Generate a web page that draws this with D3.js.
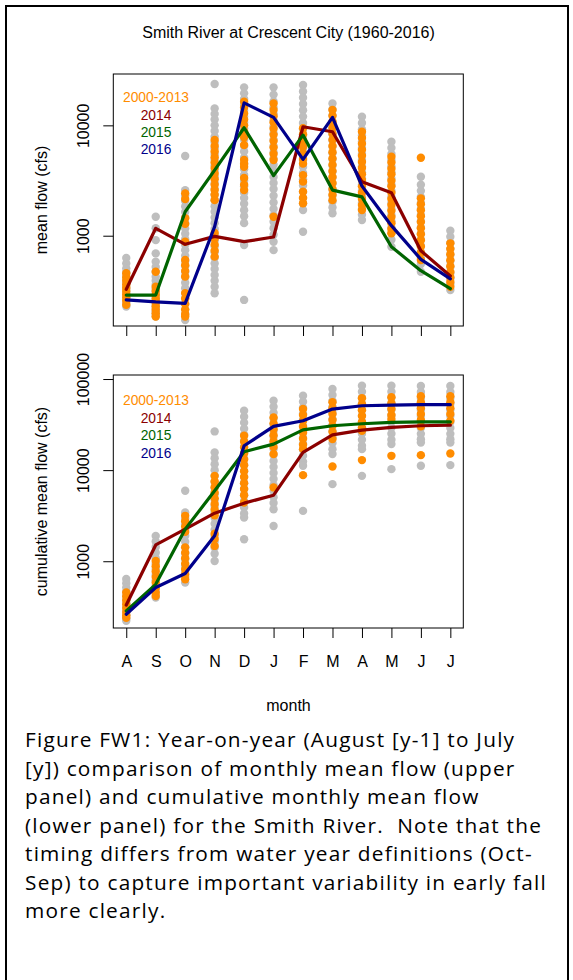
<!DOCTYPE html>
<html>
<head>
<meta charset="utf-8">
<script src="https://cdn.jsdelivr.net/npm/d3@7/dist/d3.min.js"></script>
<style>
body { margin: 0; background: #fff; }
svg text { font-family: "Liberation Sans", Arial, sans-serif; fill: #000; }
</style>
</head>
<body>
<svg id="chart" width="573" height="980"></svg>
<script>
var months = ['A', 'S', 'O', 'N', 'D', 'J', 'F', 'M', 'A', 'M', 'J', 'J'];
var monthNums = [1, 2, 3, 4, 5, 6, 7, 8, 9, 10, 11, 12];

// monthly mean flow (cfs), all years (grey) and 2000-2013 (orange)
var grayFlow = [
    [628, 560, 505, 465, 430, 400, 375, 350, 330, 310, 292, 276, 262, 248, 236, 228],
    [1486, 1170, 912, 692, 582, 520, 470, 425, 390, 360, 335, 312, 290, 270, 252, 236, 221, 207, 195, 185],
    [5270, 2590, 2310, 2060, 1840, 1640, 1460, 1300, 1160, 1040, 930, 830, 740, 660, 590, 530, 470, 420, 375, 335, 300, 268, 240, 214, 192, 172],
    [23700, 14250, 12700, 11300, 10000, 8900, 7900, 7000, 6200, 5500, 4900, 4350, 3850, 3400, 3000, 2650, 2350, 2100, 1850, 1650, 1460, 1300, 1150, 1020, 900, 800, 710, 630, 560, 500, 440, 390, 345, 301],
    [22100, 19500, 17300, 15300, 13600, 12000, 10600, 9400, 8300, 7400, 6500, 5800, 5100, 4500, 4000, 3550, 3150, 2800, 2450, 2200, 1950, 1700, 1500, 1300, 825, 262],
    [22100, 19000, 16500, 14500, 12700, 11100, 9700, 8500, 7400, 6500, 5700, 5000, 4400, 3850, 3400, 3000, 2650, 2300, 2000, 1750, 1530, 1340, 1170, 1020, 880, 740],
    [23200, 20300, 17800, 15600, 13700, 12000, 10500, 9200, 8100, 7100, 6200, 5500, 4800, 4200, 3700, 3250, 2850, 2500, 2200, 1950, 1710, 1086],
    [15800, 13900, 12200, 10700, 9400, 8300, 7300, 6400, 5600, 4900, 4300, 3800, 3350, 2950, 2600, 2300, 2030, 1800, 1600],
    [11970, 10500, 9200, 8100, 7100, 6250, 5500, 4850, 4250, 3750, 3300, 2900, 2550, 2250, 1980, 1750, 1550, 1387],
    [7110, 6250, 5500, 4850, 4250, 3750, 3300, 2900, 2550, 2250, 1980, 1750, 1540, 1350, 1190, 1050, 920, 794],
    [3420, 2900, 2550, 2250, 1980, 1750, 1540, 1350, 1190, 1050, 920, 810, 710, 630, 555, 472],
    [1110, 980, 860, 760, 670, 590, 520, 460, 410, 365, 322]
];
var orangeFlow = [
    [457, 420, 390, 362, 337, 315, 295, 276, 257, 237],
    [472, 345, 315, 290, 268, 248, 230, 213, 198, 185],
    [2420, 2150, 1440, 1280, 883, 603, 540, 480, 427, 302, 270, 240, 214, 195, 185],
    [7360, 6500, 5800, 5150, 4600, 4100, 3650, 3250, 2900, 2600, 2350, 2100, 1057, 940, 830, 730, 646],
    [16400, 14500, 12800, 11300, 10000, 8800, 7800, 6640, 4850, 4500, 4220, 3340, 2900, 2590],
    [15800, 13800, 12100, 10600, 9300, 8200, 7200, 6300, 5500, 4850, 1486],
    [9400, 8300, 7300, 6400, 5600, 4950, 4500, 3540, 3090, 2500, 2200, 1965],
    [13800, 12200, 10800, 9500, 8400, 7400, 6500, 5700, 5000, 4400, 3850, 3400, 3000, 2650, 2350, 2100],
    [8750, 7700, 6800, 6000, 5300, 4650, 4100, 3600, 3200, 2800, 2450, 2150, 1900, 1710],
    [5200, 4600, 4050, 3600, 3150, 2800, 2450, 2150, 1900, 1680, 1480, 1300, 1150, 1052],
    [5090, 2180, 1930, 1700, 1500, 1330, 1170, 1030, 910, 800, 700, 603],
    [853, 760, 680, 600, 530, 470, 420, 380, 345]
];

// cumulative monthly mean flow (cfs)
var grayCum = [
    [640, 575, 515, 465, 420, 380, 345, 312, 282, 255, 235, 222],
    [1897, 1650, 1430, 1240, 1080, 940, 820, 710, 620, 540, 470, 399],
    [5930, 3430, 2950, 2550, 2200, 1900, 1640, 1420, 1220, 1050, 900, 780, 675, 584],
    [26600, 15660, 13500, 11600, 10000, 8600, 7400, 6350, 5450, 4700, 4050, 3480, 3000, 2580, 2220, 1910, 1640, 1410, 1210, 1007],
    [44900, 38600, 33200, 28500, 24500, 21000, 18100, 15500, 13300, 11400, 9800, 8400, 7200, 6200, 5300, 4550, 3900, 3350, 3020, 1746],
    [57800, 49700, 42700, 36700, 31500, 27000, 23200, 19900, 17100, 14700, 12600, 10800, 9300, 8000, 6850, 5900, 5050, 4350, 3720, 2440],
    [65500, 56300, 48400, 41600, 35700, 30700, 26400, 22700, 19500, 16700, 14400, 12400, 11150, 3570],
    [77600, 66700, 57300, 49200, 42300, 36300, 31200, 26800, 23000, 19800, 17000, 15000, 7020],
    [84500, 72600, 62400, 53600, 46000, 39500, 34000, 29200, 25100, 21500, 18500, 17000, 8650],
    [84500, 72600, 62400, 53600, 46000, 39500, 34000, 29200, 25100, 21600, 19300, 10250],
    [84000, 72000, 62000, 53300, 45800, 39300, 33800, 29000, 25000, 21800, 20100, 11150],
    [84000, 72000, 62000, 53300, 45800, 39300, 33800, 29000, 25000, 21800, 20100, 11350]
];
var orangeCum = [
    [453, 410, 372, 338, 306, 278, 255, 240],
    [1007, 880, 770, 670, 585, 510, 450, 416],
    [3150, 2750, 2400, 2100, 1420, 1240, 1080, 940, 820, 720, 634],
    [8650, 7500, 6500, 5650, 4900, 4250, 3700, 3200, 2000, 1750, 1473],
    [23800, 20500, 17700, 15200, 13100, 11300, 9700, 8400, 7200, 6200, 5300, 4420],
    [37900, 32600, 28100, 24200, 20800, 17900, 15000, 6460],
    [46800, 40300, 34700, 29900, 25700, 22100, 19000, 17000, 8810],
    [55500, 47800, 41200, 35500, 30600, 26300, 21900, 10970],
    [61400, 52900, 45500, 39200, 33800, 29100, 27000, 12880],
    [63000, 54300, 46800, 40300, 36300, 14350],
    [64600, 55600, 47900, 41300, 35500, 30200, 14600],
    [64600, 55600, 47900, 41300, 34800, 15200]
];

var flow2014 = [327, 1167, 836, 986, 883, 973, 9710, 8750, 3080, 2450, 731, 431];
var flow2015 = [290, 290, 1650, 3930, 9510, 3500, 8160, 2590, 2250, 794, 482, 331];
var flow2016 = [262, 251, 244, 1208, 16000, 11800, 4920, 11800, 2820, 1233, 611, 406];
var cum2014 = [331, 1510, 2250, 3370, 4340, 5310, 15700, 24400, 27500, 29500, 30700, 31200];
var cum2015 = [284, 558, 2250, 5930, 15900, 19300, 27700, 30700, 32300, 33400, 33900, 33900];
var cum2016 = [262, 514, 733, 1900, 18500, 30200, 34800, 46800, 50900, 51800, 52300, 52300];

var legendLabels = ['2000-2013', '2014', '2015', '2016'];
var topTicks = [1000, 10000];
var bottomTicks = [1000, 10000, 100000];

var captionLines = [
    'Figure FW1: Year-on-year (August [y-1] to July',
    '[y]) comparison of monthly mean flow (upper',
    'panel) and cumulative monthly mean flow',
    '(lower panel) for the Smith River.  Note that the',
    'timing differs from water year definitions (Oct-',
    'Sep) to capture important variability in early fall',
    'more clearly.'
];

var colors = {
    gray: '#bebebe',
    orange: '#ff8c00',
    y2014: '#8b0000',
    y2015: '#006400',
    y2016: '#00008b'
};
var legendColors = [colors.orange, colors.y2014, colors.y2015, colors.y2016];

var svg = d3.select('#chart');
var left = 113.3, right = 463.3;

var x = d3.scaleLinear()
    .domain([0.56, 12.44])
    .range([left, right]);

svg.append('rect')
    .attr('x', 6).attr('y', 6)
    .attr('width', 562).attr('height', 1000)
    .attr('fill', 'none')
    .attr('stroke', '#000')
    .attr('stroke-width', 2);

svg.append('text')
    .attr('x', 288.5).attr('y', 38)
    .attr('text-anchor', 'middle')
    .style('font-size', '16px')
    .text('Smith River at Crescent City (1960-2016)');

drawPanel({
    top: 74, bottom: 326,
    domain: [152, 29200],
    ticks: topTicks,
    gray: grayFlow, orange: orangeFlow,
    series: [[flow2014, colors.y2014], [flow2015, colors.y2015], [flow2016, colors.y2016]],
    ylabel: 'mean flow (cfs)',
    legendY: [102, 120, 137, 154],
    xLabels: false
});

drawPanel({
    top: 375, bottom: 628,
    domain: [185, 110700],
    ticks: bottomTicks,
    gray: grayCum, orange: orangeCum,
    series: [[cum2014, colors.y2014], [cum2015, colors.y2015], [cum2016, colors.y2016]],
    ylabel: 'cumulative mean flow (cfs)',
    legendY: [404.5, 422.5, 440, 457.5],
    xLabels: true
});

function drawPanel(p) {
    var y = d3.scaleLog()
        .domain(p.domain)
        .range([p.bottom, p.top]);

    var g = svg.append('g');

    function flatten(cols) {
        var pts = [];
        cols.forEach(function(vals, i) {
            vals.forEach(function(v) {
                pts.push({m: i + 1, v: v});
            });
        });
        return pts;
    }

    g.selectAll('circle.gray')
        .data(flatten(p.gray))
        .enter()
        .append('circle')
        .attr('class', 'gray')
        .attr('cx', function(d) { return x(d.m); })
        .attr('cy', function(d) { return y(d.v); })
        .attr('r', 4.2)
        .attr('fill', colors.gray);

    g.selectAll('circle.orange')
        .data(flatten(p.orange))
        .enter()
        .append('circle')
        .attr('class', 'orange')
        .attr('cx', function(d) { return x(d.m); })
        .attr('cy', function(d) { return y(d.v); })
        .attr('r', 4.2)
        .attr('fill', colors.orange);

    var line = d3.line()
        .x(function(d, i) { return x(monthNums[i]); })
        .y(function(d) { return y(d); });

    p.series.forEach(function(s) {
        g.append('path')
            .attr('d', line(s[0]))
            .attr('fill', 'none')
            .attr('stroke', s[1])
            .attr('stroke-width', 3.2)
            .attr('stroke-linejoin', 'round')
            .attr('stroke-linecap', 'round');
    });

    // box around plot region
    g.append('rect')
        .attr('x', left).attr('y', p.top)
        .attr('width', right - left).attr('height', p.bottom - p.top)
        .attr('fill', 'none')
        .attr('stroke', '#000')
        .attr('stroke-width', 1);

    var yAxis = g.append('g')
        .attr('transform', 'translate(' + left + ',0)')
        .call(d3.axisLeft(y).tickValues(p.ticks).tickSize(10).tickFormat(d3.format('d')));
    yAxis.select('.domain').remove();
    yAxis.selectAll('line').attr('stroke', '#000');
    yAxis.selectAll('text')
        .attr('transform', 'rotate(-90)')
        .attr('x', 0).attr('y', -24.3).attr('dy', 0)
        .attr('text-anchor', 'middle')
        .style('font-size', '16px')
        .style('font-family', '"Liberation Sans", Arial, sans-serif')
        .attr('fill', '#000');

    var xAxis = g.append('g')
        .attr('transform', 'translate(0,' + p.bottom + ')')
        .call(d3.axisBottom(x).tickValues(monthNums).tickSize(10)
            .tickFormat(function(d) { return p.xLabels ? months[d - 1] : ''; }));
    xAxis.select('.domain').remove();
    xAxis.selectAll('line').attr('stroke', '#000');
    xAxis.selectAll('text')
        .attr('y', 39).attr('dy', 0)
        .style('font-size', '16px')
        .style('font-family', '"Liberation Sans", Arial, sans-serif')
        .attr('fill', '#000');

    g.append('text')
        .attr('transform', 'translate(46.5,' + ((p.top + p.bottom) / 2) + ') rotate(-90)')
        .attr('text-anchor', 'middle')
        .style('font-size', '16px')
        .text(p.ylabel);

    g.selectAll('text.legend')
        .data(legendLabels)
        .enter()
        .append('text')
        .attr('class', 'legend')
        .attr('x', 156)
        .attr('y', function(d, i) { return p.legendY[i]; })
        .attr('text-anchor', 'middle')
        .style('font-size', '13.8px')
        .style('fill', function(d, i) { return legendColors[i]; })
        .text(function(d) { return d; });
}

svg.append('text')
    .attr('x', 288.5).attr('y', 711)
    .attr('text-anchor', 'middle')
    .style('font-size', '16px')
    .text('month');

// caption: keep line height like the figure, spread letters so the longest line is as wide
var capText = svg.append('g')
    .selectAll('text')
    .data(captionLines)
    .enter()
    .append('text')
    .attr('xml:space', 'preserve')
    .attr('x', 25)
    .attr('y', function(d, i) { return 747 + i * 28.5; })
    .style('font-family', '"Open Sans", "Noto Sans", sans-serif')
    .style('font-size', '20.8px')
    .text(function(d) { return d; });
var widestNode = capText.nodes().reduce(function(a, n) {
    return n.getComputedTextLength() > a.getComputedTextLength() ? n : a;
});
var spacing = (522 - widestNode.getComputedTextLength()) / widestNode.textContent.length;
capText.style('letter-spacing', Math.max(0, spacing) + 'px');
</script>
</body>
</html>
